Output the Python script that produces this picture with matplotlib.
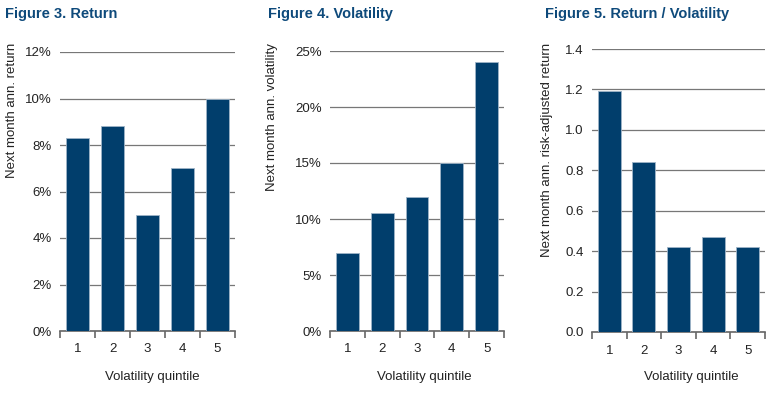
import numpy as np
import matplotlib
matplotlib.use("Agg")
import matplotlib.pyplot as plt
from matplotlib.ticker import FuncFormatter

plt.rcParams['font.family'] = ['Liberation Sans', 'DejaVu Sans']

quintiles = ["1", "2", "3", "4", "5"]
ret = [8.3, 8.8, 5.0, 7.0, 10.0]
vol = [7.0, 10.5, 12.0, 15.0, 24.0]
ratio = [1.19, 0.84, 0.42, 0.47, 0.42]

titles = ["Figure 3. Return", "Figure 4. Volatility", "Figure 5. Return / Volatility"]
ylabels = ["Next month ann. return", "Next month ann. volatility",
           "Next month ann. risk-adjusted return"]
series = [ret, vol, ratio]
yticks = [np.arange(0, 13, 2), np.arange(0, 26, 5), np.arange(0, 1.41, 0.2)]
fmts = [lambda v, p: "%d%%" % v, lambda v, p: "%d%%" % v, lambda v, p: "%.1f" % v]

# axes boxes in pixels (left, bottom-from-top, right, top-from-top)
boxes = [(60, 331, 235, 52), (330, 331, 504, 51), (592, 332, 765, 49)]
title_x = [5, 268, 545]
ylab_x = [12, 272, 547]
xlab_x = [152, 424, 691]

W, H = 770, 396
fig = plt.figure(figsize=(W / 100, H / 100), dpi=100)

bar_col = "#013e6c"
title_col = "#0e4a7b"
txt_col = "#222222"
fs = 9.5

for i in range(3):
    l, b, r, t = boxes[i]
    ax = fig.add_axes([l / W, 1 - b / H, (r - l) / W, (b - t) / H])
    x = np.arange(len(quintiles))
    ax.bar(x, series[i], width=0.66, color=bar_col, edgecolor="#9fb4c8",
           linewidth=0.6, zorder=3)
    ax.set_xlim(-0.5, 4.5)
    ax.set_ylim(yticks[i][0], yticks[i][-1])
    ax.set_yticks(yticks[i])
    ax.yaxis.set_major_formatter(FuncFormatter(fmts[i]))
    ax.grid(axis="y", color="#777777", linewidth=0.9, zorder=0)
    ax.tick_params(axis="y", length=0, labelsize=fs, pad=6, colors=txt_col)
    ax.set_xticks(x)
    ax.set_xticklabels(quintiles)
    ax.set_xticks(np.arange(-0.5, 5, 1), minor=True)
    ax.tick_params(axis="x", which="major", length=0, labelsize=fs, pad=9,
                   colors=txt_col)
    ax.tick_params(axis="x", which="minor", length=5, width=1.2, color="#666666")
    for s in ["left", "right", "top"]:
        ax.spines[s].set_visible(False)
    ax.spines["bottom"].set_color("#666666")
    ax.spines["bottom"].set_linewidth(1.2)
    fig.text(xlab_x[i] / W, 1 - 377 / H, "Volatility quintile", fontsize=fs,
             color=txt_col, ha="center", va="center")
    fig.text(ylab_x[i] / W, 1 - 43 / H, ylabels[i], fontsize=fs, rotation=90,
             color=txt_col, ha="center", va="top")
    fig.text(title_x[i] / W, 1 - 14 / H, titles[i], fontsize=10.5,
             fontweight="bold", color=title_col, va="center", ha="left")

fig.savefig("out.png", dpi=100)
